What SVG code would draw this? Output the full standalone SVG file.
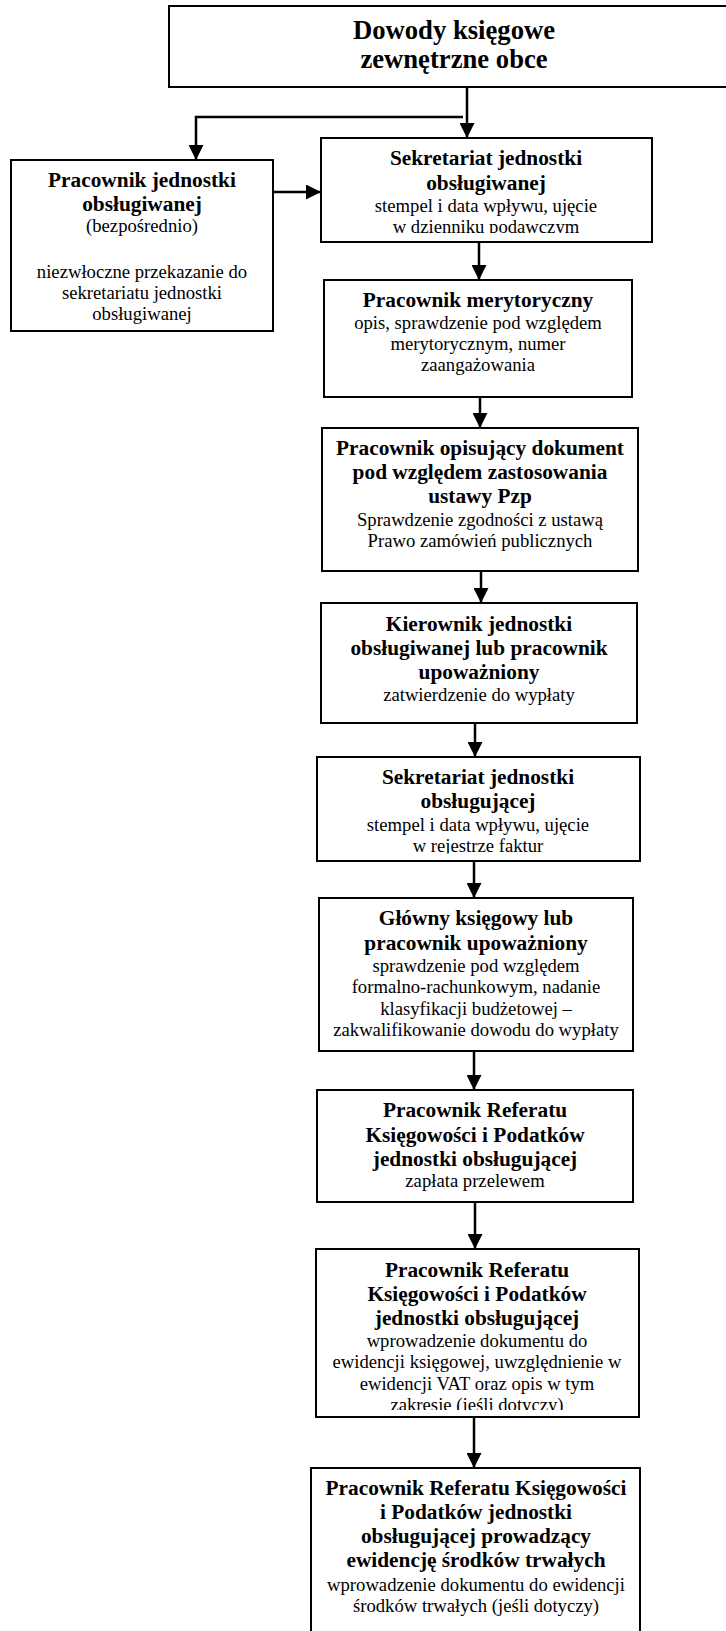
<svg xmlns="http://www.w3.org/2000/svg" width="726" height="1631" viewBox="0 0 726 1631">
<style>
text{font-family:"Liberation Serif","Times New Roman",serif;fill:#000;text-anchor:middle}
.t{font-size:26.67px;font-weight:bold}
.b{font-size:21.33px;font-weight:bold}
.r{font-size:18.67px}
.box{fill:#fff;stroke:#000;stroke-width:2}
.ln{fill:none;stroke:#000;stroke-width:2.5}
</style>
<defs>
<marker id="ah" markerUnits="userSpaceOnUse" markerWidth="15" markerHeight="15" refX="15" refY="7.5" orient="auto">
<path d="M0,0 L15,7.5 L0,15 Z" fill="#000"/>
</marker>
<clipPath id="c1"><rect x="321" y="138" width="331" height="95"/></clipPath>
<clipPath id="c7"><rect x="317" y="757" width="323" height="96.5"/></clipPath>
<clipPath id="c10"><rect x="316" y="1249" width="323" height="161"/></clipPath>
</defs>
<rect width="726" height="1631" fill="#fff"/>

<g id="connectors">
<line class="ln" x1="467" y1="87" x2="467" y2="138" marker-end="url(#ah)"/>
<polyline class="ln" points="463,117 196,117 196,160" marker-end="url(#ah)"/>
<line class="ln" x1="264" y1="192" x2="321" y2="192" marker-end="url(#ah)"/>
<line class="ln" x1="479" y1="242" x2="479" y2="280" marker-end="url(#ah)"/>
<line class="ln" x1="480" y1="397" x2="480" y2="428" marker-end="url(#ah)"/>
<line class="ln" x1="481" y1="571" x2="481" y2="603" marker-end="url(#ah)"/>
<line class="ln" x1="475" y1="723" x2="475" y2="757" marker-end="url(#ah)"/>
<line class="ln" x1="474" y1="861" x2="474" y2="898" marker-end="url(#ah)"/>
<line class="ln" x1="474" y1="1051" x2="474" y2="1090" marker-end="url(#ah)"/>
<line class="ln" x1="475" y1="1202" x2="475" y2="1249" marker-end="url(#ah)"/>
<line class="ln" x1="474" y1="1417" x2="474" y2="1468" marker-end="url(#ah)"/>
</g>

<g id="n0">
<rect class="box" x="169" y="6" width="580" height="81"/>
<text class="t" x="454" y="39">Dowody księgowe</text>
<text class="t" x="454" y="68">zewnętrzne obce</text>
</g>

<g id="n1">
<rect class="box" x="11" y="160" width="262" height="171"/>
<text class="b" x="142" y="187">Pracownik jednostki</text>
<text class="b" x="142" y="211">obsługiwanej</text>
<text class="r" x="142" y="232">(bezpośrednio)</text>
<text class="r" x="142" y="278">niezwłoczne przekazanie do</text>
<text class="r" x="142" y="299">sekretariatu jednostki</text>
<text class="r" x="142" y="320">obsługiwanej</text>
</g>

<g id="n2">
<rect class="box" x="321" y="138" width="331" height="104"/>
<g clip-path="url(#c1)">
<text class="b" x="486" y="165">Sekretariat jednostki</text>
<text class="b" x="486" y="190">obsługiwanej</text>
<text class="r" x="486" y="212">stempel i data wpływu, ujęcie</text>
<text class="r" x="486" y="233">w dzienniku podawczym</text>
</g>
</g>

<g id="n3">
<rect class="box" x="324" y="280" width="308" height="117"/>
<text class="b" x="478" y="307">Pracownik merytoryczny</text>
<text class="r" x="478" y="329">opis, sprawdzenie pod względem</text>
<text class="r" x="478" y="350">merytorycznym, numer</text>
<text class="r" x="478" y="371">zaangażowania</text>
</g>

<g id="n4">
<rect class="box" x="322" y="428" width="316" height="143"/>
<text class="b" x="480" y="455">Pracownik opisujący dokument</text>
<text class="b" x="480" y="479">pod względem zastosowania</text>
<text class="b" x="480" y="503">ustawy Pzp</text>
<text class="r" x="480" y="526">Sprawdzenie zgodności z ustawą</text>
<text class="r" x="480" y="547">Prawo zamówień publicznych</text>
</g>

<g id="n5">
<rect class="box" x="321" y="603" width="316" height="120"/>
<text class="b" x="479" y="631">Kierownik jednostki</text>
<text class="b" x="479" y="655">obsługiwanej lub pracownik</text>
<text class="b" x="479" y="679">upoważniony</text>
<text class="r" x="479" y="701">zatwierdzenie do wypłaty</text>
</g>

<g id="n6">
<rect class="box" x="317" y="757" width="323" height="104"/>
<g clip-path="url(#c7)">
<text class="b" x="478" y="784">Sekretariat jednostki</text>
<text class="b" x="478" y="808">obsługującej</text>
<text class="r" x="478" y="831">stempel i data wpływu, ujęcie</text>
<text class="r" x="478" y="852">w rejestrze faktur</text>
</g>
</g>

<g id="n7">
<rect class="box" x="319" y="898" width="314" height="153"/>
<text class="b" x="476" y="925">Główny księgowy lub</text>
<text class="b" x="476" y="950">pracownik upoważniony</text>
<text class="r" x="476" y="972">sprawdzenie pod względem</text>
<text class="r" x="476" y="993">formalno-rachunkowym, nadanie</text>
<text class="r" x="476" y="1015">klasyfikacji budżetowej –</text>
<text class="r" x="476" y="1036">zakwalifikowanie dowodu do wypłaty</text>
</g>

<g id="n8">
<rect class="box" x="317" y="1090" width="316" height="112"/>
<text class="b" x="475" y="1117">Pracownik Referatu</text>
<text class="b" x="475" y="1142">Księgowości i Podatków</text>
<text class="b" x="475" y="1166">jednostki obsługującej</text>
<text class="r" x="475" y="1187">zapłata przelewem</text>
</g>

<g id="n9">
<rect class="box" x="316" y="1249" width="323" height="168"/>
<g clip-path="url(#c10)">
<text class="b" x="477" y="1277">Pracownik Referatu</text>
<text class="b" x="477" y="1301">Księgowości i Podatków</text>
<text class="b" x="477" y="1325">jednostki obsługującej</text>
<text class="r" x="477" y="1347">wprowadzenie dokumentu do</text>
<text class="r" x="477" y="1368">ewidencji księgowej, uwzględnienie w</text>
<text class="r" x="477" y="1390">ewidencji VAT oraz opis w tym</text>
<text class="r" x="477" y="1411">zakresie (jeśli dotyczy)</text>
</g>
</g>

<g id="n10">
<rect class="box" x="311" y="1468" width="329" height="180"/>
<text class="b" x="476" y="1495">Pracownik Referatu Księgowości</text>
<text class="b" x="476" y="1519">i Podatków jednostki</text>
<text class="b" x="476" y="1543">obsługującej prowadzący</text>
<text class="b" x="476" y="1567">ewidencję środków trwałych</text>
<text class="r" x="476" y="1591">wprowadzenie dokumentu do ewidencji</text>
<text class="r" x="476" y="1612">środków trwałych (jeśli dotyczy)</text>
</g>
</svg>
